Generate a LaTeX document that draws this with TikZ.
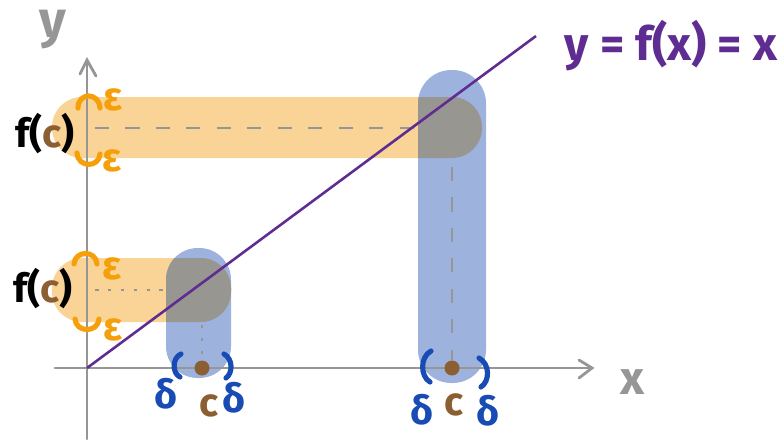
\documentclass[tikz,border=0pt]{standalone}
\usepackage{fontspec}
\setmainfont{Fira Sans}
\usetikzlibrary{calc, positioning}

\definecolor{bandorange}{RGB}{250,212,150}
\definecolor{bandblue}{RGB}{158,178,222}
\definecolor{bandgray}{RGB}{152,150,144}
\definecolor{epsorange}{RGB}{245,160,10}
\definecolor{delblue}{RGB}{25,75,180}
\definecolor{cbrown}{RGB}{140,95,50}
\definecolor{axgray}{RGB}{150,150,150}
\definecolor{linepurple}{RGB}{95,45,145}

\begin{document}
\begin{tikzpicture}[x=0.03cm, y=-0.03cm,
    axis/.style={draw=axgray, line width=2.4pt, line cap=round},
    guide/.style={draw=axgray, line width=1.3pt, dash pattern=on 12pt off 14pt},
    obrk/.style={draw=epsorange, line width=4.4pt, line cap=round},
    bbrk/.style={draw=delblue, line width=4.4pt, line cap=round},
    dot/.style={circle, fill=cbrown, inner sep=0pt, minimum size=0.45cm},
    lbl/.style={font=\bfseries\fontsize{34}{36}\selectfont, inner sep=0pt}]
    \useasboundingbox (0,0) rectangle (783,439);

    % Bands
    \fill[bandorange, rounded corners=0.9cm] (52,97) rectangle (482,158);
    \fill[bandorange, rounded corners=0.9cm] (52,258) rectangle (231,322);
    \fill[bandblue, rounded corners=1cm] (418,70) rectangle (486,383);
    \fill[bandblue, rounded corners=0.95cm] (166,248) rectangle (231,378);

    % Overlaps
    \begin{scope}
        \clip[rounded corners=0.9cm] (52,97) rectangle (482,158);
        \fill[bandgray, rounded corners=1cm] (418,70) rectangle (486,383);
    \end{scope}
    \begin{scope}
        \clip[rounded corners=0.9cm] (52,258) rectangle (231,322);
        \fill[bandgray, rounded corners=0.95cm] (166,248) rectangle (231,378);
    \end{scope}

    % Axes
    \coordinate (origin) at (87,368);
    \coordinate (xend) at (592,368);
    \coordinate (yend) at (87,60);
    \draw[axis] (55,368) -- (xend);
    \draw[axis] (87,439) -- (yend);
    \draw[axis] (579,360) -- (xend) -- (579,378);
    \draw[axis] (80,74) -- (yend) -- (96,76);
    \node[lbl, text=axgray, font=\bfseries\fontsize{44}{46}\selectfont] (ylbl) at (53,30) {y};
    \node[lbl, text=axgray, font=\bfseries\fontsize{40}{42}\selectfont] (xlbl) at (632,382) {x};

    % Points
    \node[dot] (c1) at (202,368) {};
    \node[dot] (c2) at (452,368) {};
    \coordinate (fc1) at (95,290);
    \coordinate (fc2) at (95,128);
    \coordinate (p1) at (202,290);
    \coordinate (p2) at (452,128);

    % Dashed lines for reference
    \draw[guide] (fc2) -- (p2) -- (c2);
    \draw[guide, dash pattern=on 3pt off 8pt] (fc1) -- (p1) -- (c1);

    % Diagonal
    \coordinate (dend) at (536,36);
    \draw[linepurple, line width=2.2pt] (origin) -- (dend);
    \node[lbl, text=linepurple, font=\bfseries\fontsize{40}{42}\selectfont] (eq) at (671,46) {y = f(x) = x};

    % Epsilon brackets
    \draw[obrk] (78,108) .. controls (78,92) and (99,92) .. (100,108);
    \draw[obrk] (77,153) .. controls (78,168) and (99,168) .. (100,154);
    \draw[obrk] (74,264) .. controls (75,250) and (96,250) .. (97,264);
    \draw[obrk] (75,319) .. controls (76,333) and (98,333) .. (99,319);
    \node[lbl, text=epsorange] (e1) at (113,100) {ε};
    \node[lbl, text=epsorange] (e2) at (112,161) {ε};
    \node[lbl, text=epsorange] (e3) at (112,269) {ε};
    \node[lbl, text=epsorange] (e4) at (113,330) {ε};

    % Delta brackets
    \draw[bbrk] (181,354) .. controls (172,358) and (172,373) .. (180,377);
    \draw[bbrk] (224,354) .. controls (233,359) and (233,373) .. (226,378);
    \draw[bbrk] (431,351) .. controls (420,357) and (420,376) .. (430,382);
    \draw[bbrk] (479,358) .. controls (490,364) and (490,381) .. (481,387);
    \node[lbl, text=delblue] (d1) at (166,394) {δ};
    \node[lbl, text=delblue] (d2) at (234,398) {δ};
    \node[lbl, text=delblue] (d3) at (422,410) {δ};
    \node[lbl, text=delblue] (d4) at (488,411) {δ};
    \node[lbl, text=cbrown] (cl1) at (209,406) {c};
    \node[lbl, text=cbrown] (cl2) at (454,405) {c};

    % Labels
    \node[lbl] (f1) at (43,289) {f(\textcolor{cbrown}{c})};
    \node[lbl] (f2) at (45,134) {f(\textcolor{cbrown}{c})};
\end{tikzpicture}
\end{document}
